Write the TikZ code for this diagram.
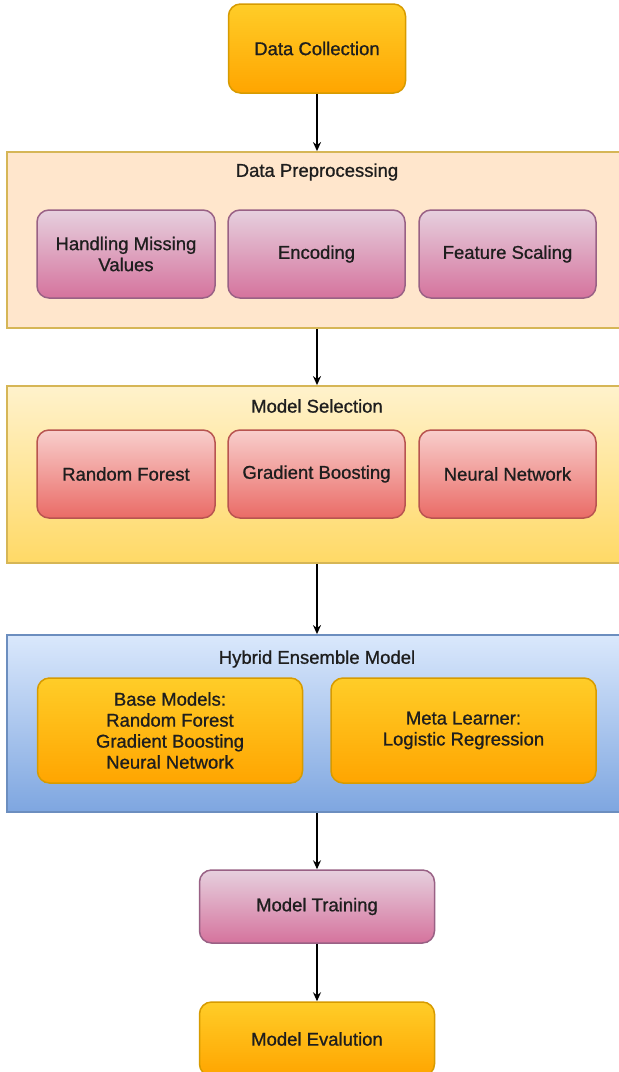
\documentclass[tikz,border=0pt]{standalone}
\usepackage{fontspec}
\setmainfont{Liberation Sans}[FakeBold=0.9]
\usetikzlibrary{arrows.meta}
\definecolor{orTop}{HTML}{FFCD28}
\definecolor{orBot}{HTML}{FFA500}
\definecolor{orLine}{HTML}{D79B00}
\definecolor{pkTop}{HTML}{E6D0DE}
\definecolor{pkBot}{HTML}{D5739D}
\definecolor{pkLine}{HTML}{996185}
\definecolor{rdTop}{HTML}{F8CECC}
\definecolor{rdBot}{HTML}{EA6B66}
\definecolor{rdLine}{HTML}{B85450}
\definecolor{peach}{HTML}{FFE6CC}
\definecolor{goldLine}{HTML}{D6B656}
\definecolor{ylTop}{HTML}{FFF2CC}
\definecolor{ylBot}{HTML}{FFD966}
\definecolor{blTop}{HTML}{DAE8FC}
\definecolor{blBot}{HTML}{7EA6E0}
\definecolor{blLine}{HTML}{6C8EBF}
\definecolor{txt}{HTML}{1E1E1E}
\tikzset{
  lbl/.style={font=\fontsize{18.5}{21}\selectfont, text=txt, align=center},
  boxbase/.style={lbl, rectangle, rounded corners=12pt, inner sep=0pt, line width=1.5pt},
  orangebox/.style={boxbase, draw=orLine, top color=orTop, bottom color=orBot},
  pinkbox/.style={boxbase, draw=pkLine, top color=pkTop, bottom color=pkBot},
  redbox/.style={boxbase, draw=rdLine, top color=rdTop, bottom color=rdBot},
  container/.style={rectangle, inner sep=0pt, line width=1.8pt, minimum width=620pt},
  flow/.style={line width=1.4pt, -{Stealth[length=9pt,width=8pt]}}
}
\begin{document}
\begin{tikzpicture}[x=1pt,y=-1pt]
\useasboundingbox (0,0) rectangle (619,1072);
\fill[white] (0,0) rectangle (619,1072);
\clip (0,0) rectangle (619,1072);

% Data Collection
\node[orangebox, minimum width=177pt, minimum height=89pt] (dc) at (317,48.5) {Data Collection};

% Data Preprocessing container
\node[container, draw=goldLine, fill=peach, minimum height=176pt] (dp) at (317,240) {};
\node[lbl] (dpt) at (317,172) {Data Preprocessing};
\node[pinkbox, minimum width=178pt, minimum height=88pt] (hmv) at (126,254) {Handling Missing\\Values};
\node[pinkbox, minimum width=177pt, minimum height=88pt] (enc) at (316.5,254) {Encoding};
\node[pinkbox, minimum width=177pt, minimum height=88pt] (fs) at (507.5,254) {Feature Scaling};

% Model Selection container
\node[container, draw=goldLine, top color=ylTop, bottom color=ylBot, minimum height=177pt] (ms) at (317,474.5) {};
\node[lbl] (mst) at (317,406) {Model Selection};
\node[redbox, minimum width=178pt, minimum height=88pt] (rf) at (126,474) {Random Forest};
\node[redbox, minimum width=177pt, minimum height=88pt] (gb) at (316.5,474) {Gradient Boosting};
\node[redbox, minimum width=177pt, minimum height=88pt] (nn) at (507.5,474) {Neural Network};

% Hybrid Ensemble container
\node[container, draw=blLine, top color=blTop, bottom color=blBot, minimum height=177pt] (he) at (317,723.5) {};
\node[lbl] (het) at (317,659) {Hybrid Ensemble Model};
\node[orangebox, minimum width=265pt, minimum height=105pt] (base) at (170,730.5) {Base Models:\\Random Forest\\Gradient Boosting\\Neural Network};
\node[orangebox, minimum width=265pt, minimum height=105pt] (meta) at (463.5,730.5) {Meta Learner:\\Logistic Regression};

% Model Training / Evaluation
\node[pinkbox, minimum width=235pt, minimum height=73pt] (mt) at (317,906.5) {Model Training};
\node[orangebox, minimum width=235pt, minimum height=74pt] (me) at (317,1039) {Model Evalution};

% connectors
\draw[flow] (dc.south) -- (dp.north);
\draw[flow] (dp.south) -- (ms.north);
\draw[flow] (ms.south) -- (he.north);
\draw[flow] (he.south) -- (mt.north);
\draw[flow] (mt.south) -- (me.north);
\end{tikzpicture}
\end{document}
